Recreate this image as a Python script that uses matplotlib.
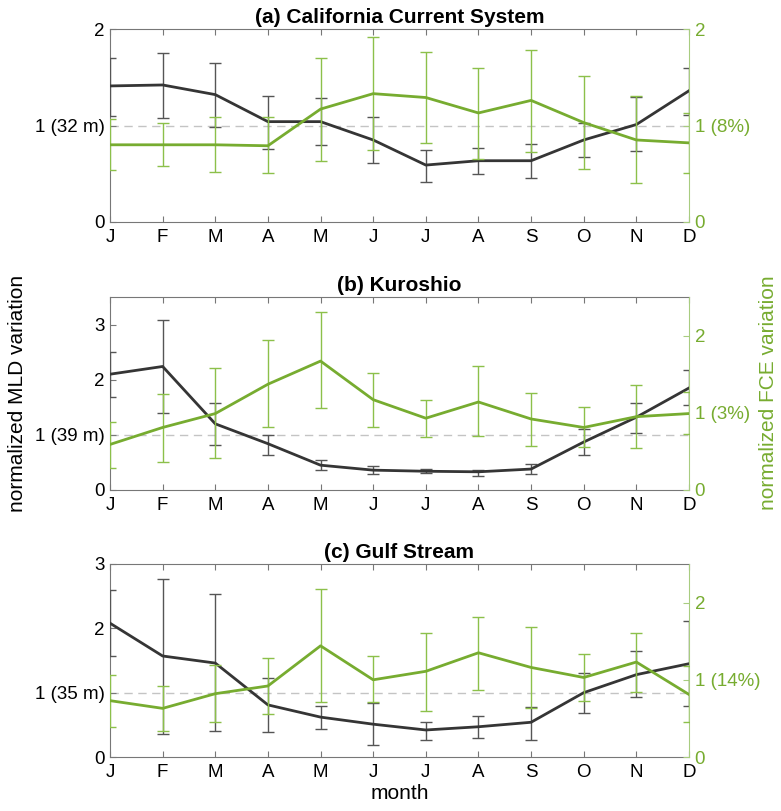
import matplotlib.pyplot as plt
import numpy as np

plt.rcParams['font.family'] = ['Liberation Sans', 'DejaVu Sans']

months = ['J', 'F', 'M', 'A', 'M', 'J', 'J', 'A', 'S', 'O', 'N', 'D']

# (a) California Current System
cc_mld = [1.41, 1.42, 1.32, 1.04, 1.04, 0.85, 0.59, 0.635, 0.635, 0.85, 1.01, 1.36]
cc_mld_lo = [1.10, 1.08, 0.98, 0.76, 0.80, 0.61, 0.41, 0.50, 0.455, 0.67, 0.74, 1.11]
cc_mld_hi = [1.70, 1.75, 1.65, 1.31, 1.28, 1.09, 0.75, 0.77, 0.81, 1.03, 1.30, 1.60]
cc_fce = [0.80, 0.80, 0.80, 0.79, 1.17, 1.33, 1.29, 1.13, 1.26, 1.03, 0.85, 0.82]
cc_fce_lo = [0.54, 0.58, 0.52, 0.51, 0.635, 0.75, 0.82, 0.65, 0.73, 0.55, 0.40, 0.51]
cc_fce_hi = [1.07, 1.03, 1.09, 1.09, 1.70, 1.92, 1.76, 1.60, 1.78, 1.51, 1.31, 1.13]

# (b) Kuroshio
ku_mld = [2.10, 2.24, 1.20, 0.84, 0.45, 0.36, 0.34, 0.33, 0.38, 0.87, 1.32, 1.85]
ku_mld_lo = [1.69, 1.39, 0.82, 0.63, 0.37, 0.29, 0.31, 0.26, 0.29, 0.63, 1.04, 1.54]
ku_mld_hi = [2.50, 3.08, 1.57, 1.00, 0.55, 0.44, 0.38, 0.37, 0.47, 1.10, 1.57, 2.17]
ku_fce = [0.59, 0.81, 0.99, 1.37, 1.67, 1.17, 0.93, 1.14, 0.92, 0.81, 0.95, 0.99]
ku_fce_lo = [0.28, 0.36, 0.41, 0.82, 1.06, 0.82, 0.69, 0.70, 0.57, 0.56, 0.55, 0.73]
ku_fce_hi = [0.88, 1.25, 1.58, 1.94, 2.30, 1.51, 1.17, 1.60, 1.26, 1.07, 1.36, 1.27]

# (c) Gulf Stream
gs_mld = [2.08, 1.57, 1.46, 0.81, 0.62, 0.51, 0.42, 0.47, 0.54, 1.00, 1.28, 1.45]
gs_mld_lo = [1.57, 0.35, 0.40, 0.39, 0.44, 0.19, 0.27, 0.30, 0.27, 0.68, 0.93, 0.79]
gs_mld_hi = [2.59, 2.77, 2.54, 1.23, 0.79, 0.84, 0.55, 0.63, 0.78, 1.31, 1.65, 2.12]
gs_fce = [0.73, 0.63, 0.82, 0.92, 1.44, 1.00, 1.11, 1.35, 1.16, 1.03, 1.23, 0.81]
gs_fce_lo = [0.39, 0.34, 0.45, 0.56, 0.71, 0.71, 0.60, 0.87, 0.63, 0.72, 0.84, 0.45]
gs_fce_hi = [1.06, 0.92, 1.19, 1.28, 2.18, 1.31, 1.61, 1.81, 1.69, 1.34, 1.61, 1.18]

BLACK = '#353535'
BLACK_ERR = '#555555'
GREEN = '#77AC30'
GREEN_ERR = '#8CC04A'
AXCOL = '#777777'

fig = plt.figure(figsize=(7.81, 8.11), dpi=100)


def panel(rect, title, mld, mld_lo, mld_hi, fce, fce_lo, fce_hi,
          lmax, lticks, llabels, rmax, rlabels):
    x = np.arange(1, 13)
    ax = fig.add_axes(rect)
    ax2 = ax.twinx()
    mld = np.array(mld)
    fce = np.array(fce)

    ax.axhline(1, color='#C4C4C4', ls=(0, (6, 4)), lw=1, zorder=1)
    ax.errorbar(x, mld, yerr=[mld - np.array(mld_lo), np.array(mld_hi) - mld],
                color=BLACK, ecolor=BLACK_ERR, lw=2, elinewidth=1,
                capsize=4, capthick=1, zorder=3)
    ax2.errorbar(x, fce, yerr=[fce - np.array(fce_lo), np.array(fce_hi) - fce],
                 color=GREEN, ecolor=GREEN_ERR, lw=2, elinewidth=1,
                 capsize=4, capthick=1, zorder=3)

    ax.set_xlim(1, 12)
    ax.set_ylim(0, lmax)
    ax2.set_ylim(0, rmax)
    ax.set_xticks(x)
    ax.set_xticklabels(months)
    ax.set_yticks(lticks)
    ax.set_yticklabels(llabels)
    ax2.set_yticks([0, 1, 2])
    ax2.set_yticklabels(rlabels)

    ax.tick_params(axis='x', direction='in', top=True, length=4,
                   color=AXCOL, labelsize=13.5, pad=5)
    ax.tick_params(axis='y', direction='in', length=4, color=AXCOL,
                   labelsize=13.5, pad=4)
    ax2.tick_params(axis='y', direction='in', length=4, color='#A8CC80',
                    labelcolor=GREEN, labelsize=13.5, pad=4)

    for s in ['left', 'top', 'bottom']:
        ax.spines[s].set_color(AXCOL)
        ax.spines[s].set_linewidth(0.8)
        ax2.spines[s].set_visible(False)
    ax.spines['right'].set_visible(False)
    ax2.spines['right'].set_color('#A8CC80')
    ax2.spines['right'].set_linewidth(0.8)

    ax.set_title(title, fontsize=15, fontweight='bold', pad=4)
    return ax, ax2


left, width = 110 / 781, 579 / 781
h = 193 / 811

panel([left, 1 - 222 / 811, width, h], '(a) California Current System',
      cc_mld, cc_mld_lo, cc_mld_hi, cc_fce, cc_fce_lo, cc_fce_hi,
      2, [0, 1, 2], ['0', '1 (32 m)', '2'], 2, ['0', '1 (8%)', '2'])

axb, axb2 = panel([left, 1 - 490 / 811, width, h], '(b) Kuroshio',
                  ku_mld, ku_mld_lo, ku_mld_hi, ku_fce, ku_fce_lo, ku_fce_hi,
                  3.5, [0, 1, 2, 3], ['0', '1 (39 m)', '2', '3'],
                  2.5, ['0', '1 (3%)', '2'])

axc, axc2 = panel([left, 1 - 757 / 811, width, h], '(c) Gulf Stream',
                  gs_mld, gs_mld_lo, gs_mld_hi, gs_fce, gs_fce_lo, gs_fce_hi,
                  3, [0, 1, 2, 3], ['0', '1 (35 m)', '2', '3'],
                  2.5, ['0', '1 (14%)', '2'])

axc.set_xlabel('month', fontsize=15, labelpad=2)
fig.text(18 / 781, 1 - 393 / 811, 'normalized MLD variation', rotation=90,
         ha='center', va='center', fontsize=15)
fig.text(768 / 781, 1 - 393 / 811, 'normalized FCE variation', rotation=90,
         ha='center', va='center', fontsize=15, color=GREEN)

fig.savefig('out.png', dpi=100)
